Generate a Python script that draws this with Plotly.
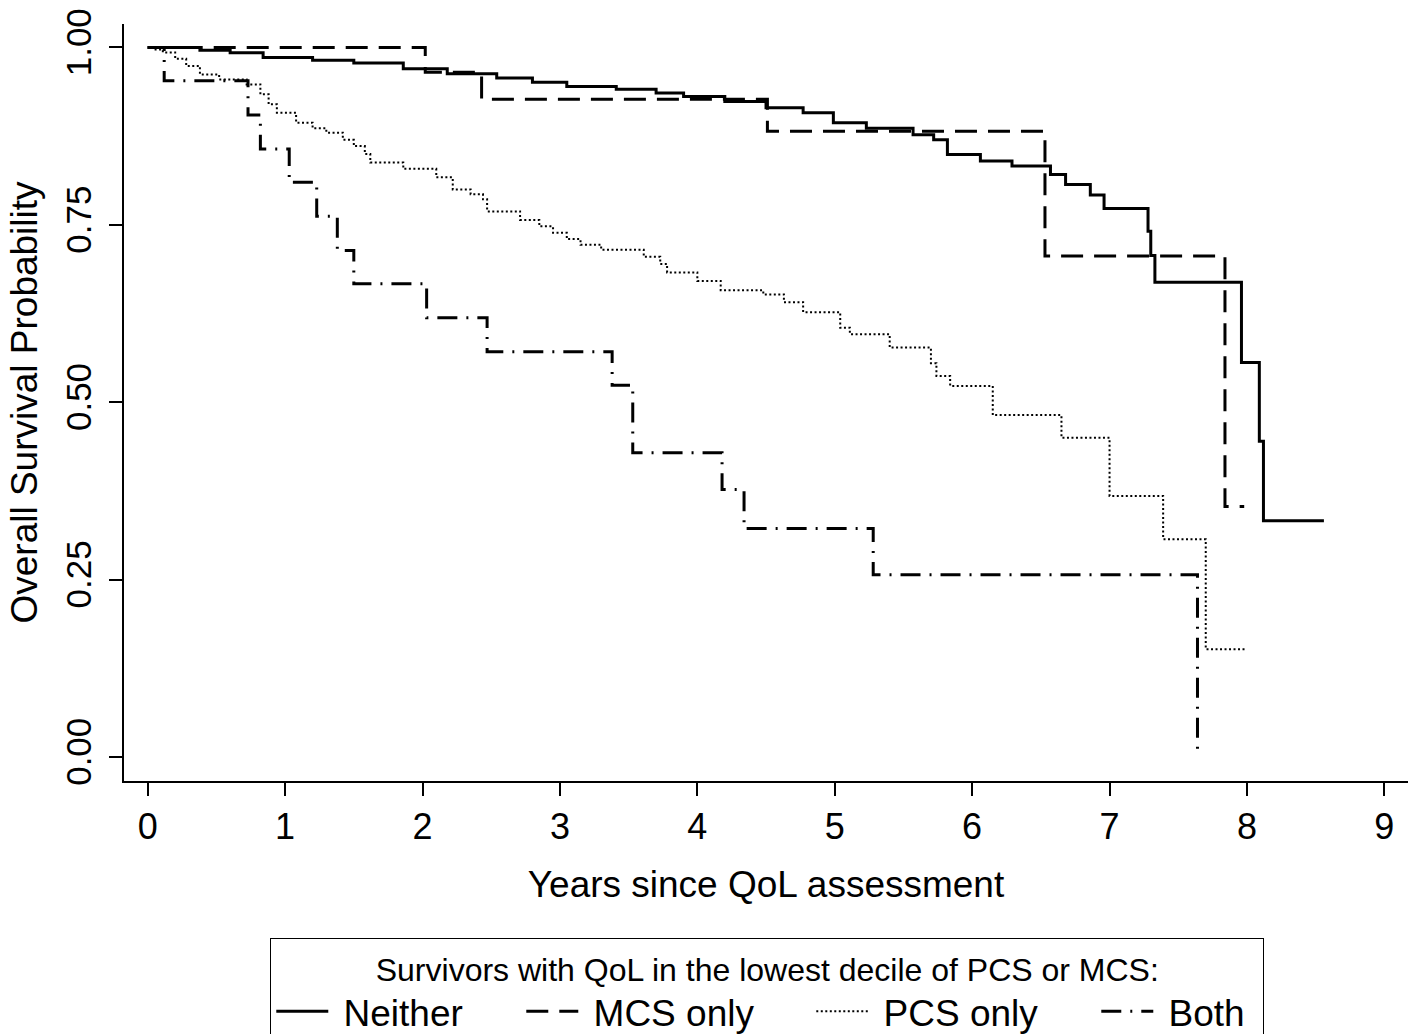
import plotly.graph_objects as go

# ---- data (Kaplan-Meier step curves) ----
neither_t = [0, 0.38, 0.60, 0.84, 1.20, 1.50, 1.86, 2.18, 2.54, 2.80, 3.05, 3.41, 3.70, 3.90,
             4.20, 4.50, 4.77, 4.99, 5.23, 5.57, 5.72, 5.82, 6.06, 6.29, 6.57, 6.68, 6.86,
             6.96, 7.28, 7.30, 7.33, 7.96, 8.09, 8.12, 8.56]
neither_s = [1.000, 0.996, 0.9925, 0.986, 0.982, 0.978, 0.970, 0.963, 0.957, 0.951, 0.945, 0.941,
             0.936, 0.931, 0.924, 0.915, 0.908, 0.894, 0.886, 0.877, 0.870, 0.849, 0.840, 0.833,
             0.821, 0.807, 0.792, 0.773, 0.741, 0.707, 0.669, 0.556, 0.445, 0.333, 0.333]

mcs_t = [0, 2.02, 2.43, 4.51, 6.53, 7.84, 7.98]
mcs_s = [1.000, 0.965, 0.927, 0.882, 0.706, 0.353, 0.353]

pcs_t = [0, 0.05, 0.11, 0.20, 0.28, 0.38, 0.52, 0.72, 0.82, 0.88, 0.94, 1.08, 1.20, 1.30, 1.42,
         1.50, 1.58, 1.62, 1.86, 2.10, 2.22, 2.35, 2.44, 2.47, 2.71, 2.85, 2.95, 3.05, 3.15,
         3.30, 3.61, 3.73, 3.78, 4.00, 4.17, 4.48, 4.63, 4.77, 5.04, 5.11, 5.40, 5.70, 5.74,
         5.84, 6.15, 6.65, 7.00, 7.39, 7.70, 7.99]
pcs_s = [1.000, 0.997, 0.993, 0.984, 0.974, 0.962, 0.955, 0.948, 0.934, 0.920, 0.908, 0.894,
         0.886, 0.880, 0.870, 0.861, 0.850, 0.838, 0.829, 0.817, 0.800, 0.793, 0.786, 0.769,
         0.757, 0.748, 0.739, 0.730, 0.722, 0.715, 0.705, 0.695, 0.683, 0.671, 0.658, 0.652,
         0.641, 0.627, 0.605, 0.596, 0.577, 0.555, 0.537, 0.523, 0.482, 0.450, 0.368, 0.307,
         0.152, 0.152]

both_t = [0, 0.12, 0.73, 0.82, 1.03, 1.23, 1.38, 1.50, 2.03, 2.47, 3.38, 3.53, 4.18, 4.34, 5.28, 7.64]
both_s = [1.000, 0.953, 0.905, 0.857, 0.810, 0.762, 0.714, 0.667, 0.619, 0.571, 0.524, 0.429,
          0.377, 0.322, 0.257, 0.000]

x_ticks = [0, 1, 2, 3, 4, 5, 6, 7, 8, 9]
y_ticks = [0.00, 0.25, 0.50, 0.75, 1.00]
y_tick_labels = ["0.00", "0.25", "0.50", "0.75", "1.00"]

PAD = "\u00a0"
series = [
    ("Neither", neither_t, neither_s, dict(color="black", width=3, dash="solid"), 183),
    ("MCS only", mcs_t, mcs_s, dict(color="black", width=3, dash="22px,11px"), 223),
    ("PCS only", pcs_t, pcs_s, dict(color="black", width=2, dash="2px,2.5px"), 218),
    ("Both", both_t, both_s, dict(color="black", width=3, dash="20px,9px,2px,9px"), 100),
]

FONT = "Liberation Sans, Arial, Helvetica, sans-serif"

fig = go.Figure()
for name, t, s, line, lw in series:
    fig.add_trace(go.Scatter(x=t, y=s, mode="lines", name=PAD + name, line=line,
                             line_shape="hv", legendwidth=lw))

fig.update_layout(
    width=1416, height=1034,
    margin=dict(l=124, r=8, t=24, b=253, autoexpand=False),
    paper_bgcolor="white", plot_bgcolor="white",
    font=dict(family=FONT, color="black", size=36),
    showlegend=True,
    legend=dict(
        orientation="h",
        x=0.501, xanchor="center",
        y=-0.2074, yanchor="top",
        bordercolor="black", borderwidth=1,
        font=dict(family=FONT, size=37, color="black"),
        title=dict(text="Survivors with QoL in the lowest decile of PCS or MCS:",
                   side="top center", font=dict(family=FONT, size=32, color="black")),
        itemwidth=52,
        tracegroupgap=0,
    ),
    xaxis=dict(
        range=[-0.1725, 9.172], tickvals=x_ticks, ticktext=[str(v) for v in x_ticks],
        showgrid=False, zeroline=False, showline=True, linecolor="black", linewidth=2,
        ticks="outside", ticklen=13, tickwidth=2, tickcolor="black",
        tickfont=dict(family=FONT, size=36, color="black"),
        title=dict(text="Years since QoL assessment", font=dict(family=FONT, size=37, color="black"),
                   standoff=25),
        automargin=False,
    ),
    yaxis=dict(
        range=[-0.0338, 1.0331], tickvals=y_ticks, ticktext=y_tick_labels, tickangle=-90,
        showgrid=False, zeroline=False, showline=True, linecolor="black", linewidth=2,
        ticks="outside", ticklen=13, tickwidth=2, tickcolor="black",
        tickfont=dict(family=FONT, size=35, color="black"),
        ticklabelstandoff=4,
        title=dict(text="Overall Survival Probability", font=dict(family=FONT, size=37, color="black"),
                   standoff=10),
        automargin=False,
    ),
)

fig.write_html("out.html", config={"displayModeBar": False},
               post_script="document.body.style.margin='0px';document.body.style.overflow='hidden';")
